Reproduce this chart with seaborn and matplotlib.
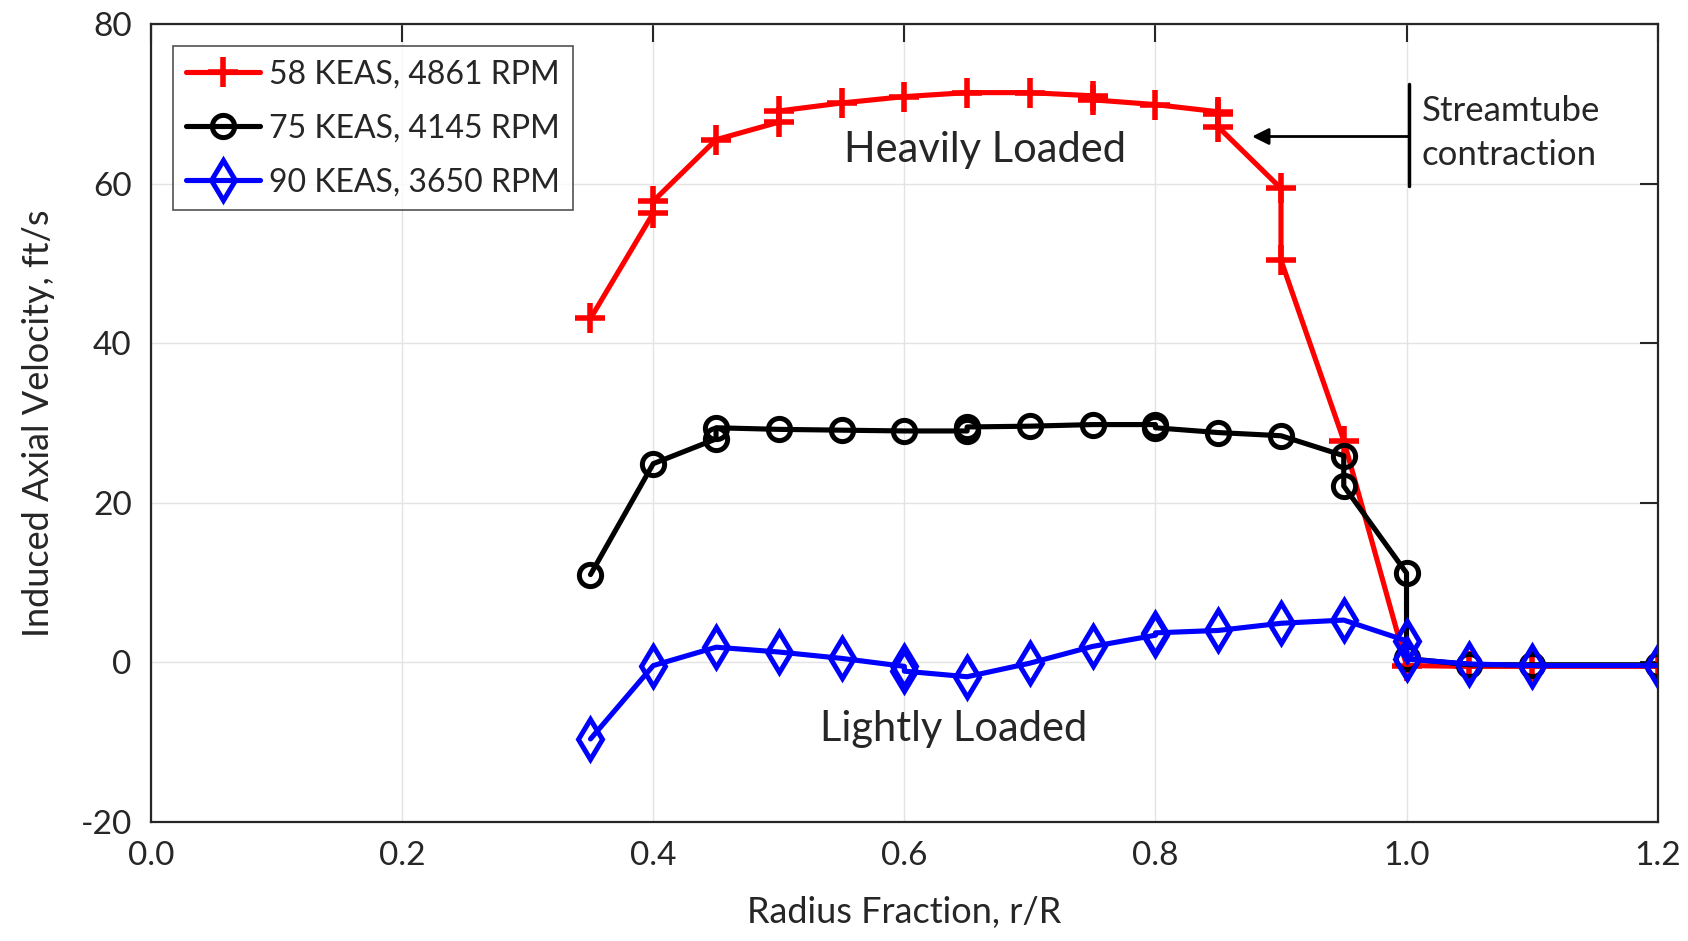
"""
Induced axial velocity vs radius fraction, three flight conditions.
"""

import numpy as np
import pandas as pd
import matplotlib.pyplot as plt
import seaborn as sns

sns.set_style("white")
plt.rcParams['font.family'] = ['Lato', 'DejaVu Sans']
plt.rcParams['axes.unicode_minus'] = False

# Data
r_58 = [0.35, 0.40, 0.40, 0.45, 0.50, 0.50, 0.55, 0.60, 0.65, 0.70, 0.75, 0.75,
        0.80, 0.85, 0.85, 0.85, 0.90, 0.90, 0.95, 1.00, 1.05, 1.10, 1.20]
v_58 = [43.1, 56.3, 57.8, 65.5, 67.7, 69.1, 70.1, 70.9, 71.4, 71.4, 71.0, 70.5,
        69.9, 69.0, 68.7, 67.1, 59.4, 50.4, 27.8, -0.4, -0.5, -0.5, -0.5]

r_75 = [0.35, 0.40, 0.45, 0.45, 0.50, 0.55, 0.60, 0.65, 0.65, 0.70, 0.75,
        0.80, 0.80, 0.85, 0.90, 0.95, 0.95, 1.00, 1.00, 1.05, 1.10, 1.20]
v_75 = [11.0, 24.9, 28.0, 29.4, 29.2, 29.1, 29.0, 29.0, 29.5, 29.6, 29.8,
        29.8, 29.4, 28.8, 28.4, 25.9, 22.1, 11.2, 0.5, -0.3, -0.3, -0.3]

r_90 = [0.35, 0.40, 0.45, 0.50, 0.55, 0.60, 0.60, 0.65, 0.70, 0.75, 0.80, 0.80,
        0.85, 0.90, 0.95, 1.00, 1.00, 1.05, 1.10, 1.20]
v_90 = [-9.6, -0.4, 1.9, 1.3, 0.5, -0.5, -1.1, -1.8, -0.1, 2.0, 3.4, 3.7,
        4.0, 4.9, 5.3, 2.7, 0.4, -0.2, -0.4, -0.4]

labels = ['58 KEAS, 4861 RPM', '75 KEAS, 4145 RPM', '90 KEAS, 3650 RPM']

fig = plt.figure(figsize=(16.88, 9.41), dpi=100)
ax = fig.add_axes([0.0895, 0.1265, 0.8925, 0.848])

series = [
    (r_58, v_58, labels[0], '#ff0000', '+', 22, 4.0),
    (r_75, v_75, labels[1], 'black', 'o', 16, 3.6),
    (r_90, v_90, labels[2], '#0000ff', 'd', 20, 3.6),
]
for r, v, lab, col, mk, ms, mew in series:
    sns.lineplot(x=r, y=v, sort=False, estimator=None, ax=ax, label=lab,
                 color=col, marker=mk, markersize=ms, markeredgewidth=mew,
                 markerfacecolor='none', markeredgecolor=col, linewidth=3.7)

ax.set_xlim(0, 1.2)
ax.set_ylim(-20, 80)
ax.set_xticks(np.arange(0, 1.21, 0.2))
ax.set_yticks(np.arange(-20, 81, 20))
ax.set_xticklabels([f'{t:.1f}' for t in np.arange(0, 1.21, 0.2)])
ax.grid(True, color='#e3e3e3', linewidth=1.0)
ax.tick_params(direction='in', length=13, width=1.5, top=True, right=True,
               labelsize=24, colors='#262626', pad=14)
for s in ax.spines.values():
    s.set_linewidth(1.6)
    s.set_color('#262626')

ax.set_xlabel('Radius Fraction, r/R', fontsize=26, color='#262626', labelpad=18)
ax.set_ylabel('Induced Axial Velocity, ft/s', fontsize=26, color='#262626', labelpad=18)

leg = ax.legend(loc='upper left', fontsize=23, frameon=True, fancybox=False,
                edgecolor='#262626', handlelength=2.3, borderaxespad=0.7,
                handletextpad=0.3, labelspacing=0.75, borderpad=0.4)
leg.get_frame().set_linewidth(1.2)

# Annotations
ax.text(0.664, 64.2, 'Heavily Loaded', fontsize=30, ha='center', va='center')
ax.text(0.639, -8.4, 'Lightly Loaded', fontsize=30, ha='center', va='center')
ax.text(1.012, 66.3, 'Streamtube\ncontraction', fontsize=25, ha='left', va='center',
        linespacing=1.45)
ax.plot([1.002, 1.002], [59.7, 72.5], color='black', linewidth=2.5)
ax.annotate('', xy=(0.877, 65.9), xytext=(1.002, 65.9),
            arrowprops=dict(arrowstyle='-|>', color='black', lw=2.0,
                            mutation_scale=25, shrinkA=0, shrinkB=0))

plt.savefig('out.png', dpi=100)
